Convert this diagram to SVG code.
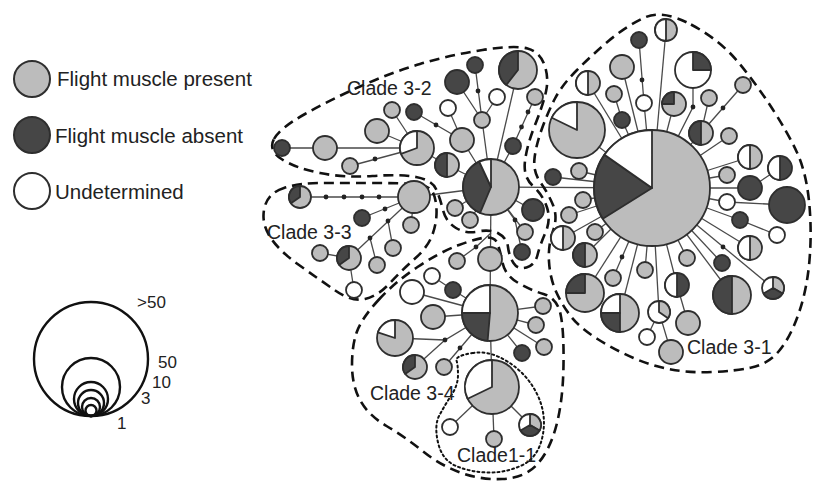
<svg xmlns="http://www.w3.org/2000/svg" width="814" height="483" viewBox="0 0 814 483">
<style>
.n{stroke:#2e2e2e;stroke-width:1.8;stroke-linejoin:round}
.g{fill:#bcbcbc}.d{fill:#464646}.w{fill:#fff}
.e{stroke:#4a4a4a;stroke-width:1.3;fill:none}
.j{fill:#222}
.b{fill:none;stroke:#111;stroke-width:2.6;stroke-dasharray:10 6}
.b11{fill:none;stroke:#111;stroke-width:2;stroke-dasharray:2 3;stroke-linecap:round}
.sz{fill:none;stroke:#111;stroke-width:2.4}
text{font-family:"Liberation Sans",Arial,sans-serif;fill:#222}
.lg{font-size:20.5px}
.cl{font-size:19.5px}
.sl{font-size:17px}
</style>
<rect width="814" height="483" fill="#fff"/>

<!-- legend: states -->
<g id="legend">
<circle class="n g" cx="32" cy="79" r="18" style="stroke-width:2"/>
<text class="lg" x="57" y="86">Flight muscle present</text>
<circle class="n d" cx="32" cy="135" r="18" style="stroke-width:2"/>
<text class="lg" x="55" y="143">Flight muscle absent</text>
<circle class="n w" cx="32" cy="191" r="18" style="stroke-width:2"/>
<text class="lg" x="55" y="199">Undetermined</text>
</g>

<!-- legend: circle size -->
<g id="size-legend">
<circle class="sz" cx="91" cy="359" r="57"/>
<circle class="sz" cx="91" cy="387" r="29"/>
<circle class="sz" cx="91" cy="399" r="17"/>
<circle class="sz" cx="91" cy="403" r="13"/>
<circle class="sz" cx="91" cy="407" r="9"/>
<circle class="sz" cx="91" cy="410.5" r="5.5"/>
<text class="sl" x="137" y="308">&gt;50</text>
<text class="sl" x="158" y="368">50</text>
<text class="sl" x="152" y="388">10</text>
<text class="sl" x="141" y="404">3</text>
<text class="sl" x="117" y="429">1</text>
</g>

<!-- connectors -->
<g id="connectors">
<!-- clade 3-1 -->
<line class="e" x1="652" y1="188" x2="666" y2="30"/>
<polyline class="e" points="639,40 644,103 652,188"/>
<line class="e" x1="652" y1="188" x2="622" y2="67"/>
<line class="e" x1="652" y1="188" x2="588" y2="83"/>
<polyline class="e" points="614,94 622,120 652,188"/>
<line class="e" x1="652" y1="188" x2="577" y2="130"/>
<line class="e" x1="652" y1="188" x2="674" y2="104"/>
<polyline class="e" points="693,70 693,107 652,188"/>
<polyline class="e" points="709,98 701,133 652,188"/>
<line class="e" x1="743" y1="85" x2="701" y2="133"/>
<line class="e" x1="652" y1="188" x2="729" y2="136"/>
<line class="e" x1="652" y1="188" x2="750" y2="157"/>
<polyline class="e" points="780,168 750,188 652,188"/>
<line class="e" x1="652" y1="188" x2="727" y2="175"/>
<polyline class="e" points="652,188 727,202 787,205"/>
<polyline class="e" points="652,188 740,220 777,235"/>
<line class="e" x1="652" y1="188" x2="750" y2="248"/>
<line class="e" x1="652" y1="188" x2="773" y2="288"/>
<line class="e" x1="652" y1="188" x2="722" y2="263"/>
<line class="e" x1="652" y1="188" x2="732" y2="295"/>
<line class="e" x1="652" y1="188" x2="687" y2="258"/>
<polyline class="e" points="652,188 677,285 688,323"/>
<polyline class="e" points="652,188 659,312 671,352"/>
<line class="e" x1="659" y1="312" x2="647" y2="337"/>
<line class="e" x1="652" y1="188" x2="645" y2="270"/>
<line class="e" x1="652" y1="188" x2="613" y2="278"/>
<line class="e" x1="652" y1="188" x2="620" y2="313"/>
<line class="e" x1="652" y1="188" x2="585" y2="293"/>
<line class="e" x1="652" y1="188" x2="585" y2="255"/>
<line class="e" x1="652" y1="188" x2="595" y2="232"/>
<line class="e" x1="652" y1="188" x2="563" y2="238"/>
<line class="e" x1="652" y1="188" x2="569" y2="215"/>
<line class="e" x1="652" y1="188" x2="583" y2="200"/>
<line class="e" x1="652" y1="188" x2="579" y2="171"/>
<line class="e" x1="652" y1="188" x2="553" y2="177"/>
<line class="e" x1="491" y1="187" x2="652" y2="188"/>
<!-- clade 3-2 -->
<polyline class="e" points="282,148 325,148 417,148 447,165 491,187"/>
<line class="e" x1="377" y1="131" x2="417" y2="148"/>
<line class="e" x1="392" y1="110" x2="417" y2="148"/>
<line class="e" x1="350" y1="166" x2="417" y2="148"/>
<polyline class="e" points="414,112 462,140 491,187"/>
<line class="e" x1="448" y1="108" x2="462" y2="140"/>
<polyline class="e" points="457,82 482,120 491,187"/>
<line class="e" x1="475" y1="65" x2="482" y2="120"/>
<line class="e" x1="497" y1="97" x2="482" y2="120"/>
<line class="e" x1="518" y1="70" x2="491" y2="187"/>
<polyline class="e" points="535,97 513,146 491,187"/>
<line class="e" x1="455" y1="208" x2="491" y2="187"/>
<line class="e" x1="470" y1="220" x2="491" y2="187"/>
<line class="e" x1="533" y1="210" x2="491" y2="187"/>
<line class="e" x1="525" y1="232" x2="491" y2="187"/>
<polyline class="e" points="491,187 515,220 522,252"/>
<line class="e" x1="414" y1="197" x2="491" y2="187"/>
<line class="e" x1="491" y1="187" x2="490" y2="313"/>
<!-- clade 3-3 -->
<line class="e" x1="300" y1="197" x2="414" y2="197"/>
<line class="e" x1="362" y1="218" x2="414" y2="197"/>
<line class="e" x1="411" y1="225" x2="414" y2="197"/>
<line class="e" x1="414" y1="197" x2="349" y2="258"/>
<line class="e" x1="388" y1="221" x2="393" y2="248"/>
<line class="e" x1="370" y1="238" x2="377" y2="265"/>
<line class="e" x1="320" y1="253" x2="349" y2="258"/>
<line class="e" x1="349" y1="258" x2="354" y2="290"/>
<!-- clade 3-4 -->
<polyline class="e" points="457,261 476,247 491,233"/>
<polyline class="e" points="432,276 453,290 490,313"/>
<line class="e" x1="412" y1="292" x2="490" y2="313"/>
<line class="e" x1="433" y1="317" x2="490" y2="313"/>
<polyline class="e" points="395,338 445,340 490,313"/>
<line class="e" x1="415" y1="367" x2="445" y2="340"/>
<line class="e" x1="444" y1="367" x2="490" y2="313"/>
<line class="e" x1="543" y1="306" x2="490" y2="313"/>
<line class="e" x1="536" y1="325" x2="490" y2="313"/>
<line class="e" x1="544" y1="347" x2="490" y2="313"/>
<line class="e" x1="522" y1="353" x2="490" y2="313"/>
<line class="e" x1="490" y1="313" x2="492" y2="387"/>
<!-- clade 1-1 -->
<line class="e" x1="492" y1="387" x2="450" y2="427"/>
<line class="e" x1="492" y1="387" x2="494" y2="439"/>
<line class="e" x1="492" y1="387" x2="530" y2="425"/>
<!-- median vectors -->
<g class="j">
<circle cx="642" cy="80" r="2.4"/><circle cx="693" cy="107" r="2.4"/><circle cx="723" cy="108" r="2.4"/>
<circle cx="723" cy="247" r="2.4"/><circle cx="622" cy="257" r="2.4"/>
<circle cx="375" cy="159" r="2.4"/><circle cx="436" cy="125" r="2.4"/><circle cx="478" cy="91" r="2.4"/>
<circle cx="528" cy="112" r="2.4"/><circle cx="521.5" cy="127" r="2.4"/><circle cx="515" cy="220" r="2.4"/>
<circle cx="326" cy="197" r="2.4"/><circle cx="344" cy="197" r="2.4"/><circle cx="362" cy="197" r="2.4"/>
<circle cx="379" cy="197" r="2.4"/><circle cx="385" cy="209" r="2.4"/><circle cx="388" cy="221" r="2.4"/>
<circle cx="370" cy="238" r="2.4"/>
<circle cx="476" cy="247" r="2.4"/><circle cx="445" cy="340" r="2.4"/><circle cx="460" cy="348" r="2.4"/>
</g>
</g>

<!-- clade outlines -->
<g id="clades">
<path id="outline-3-1" class="b" d="M691,24.5 Q720,40 738.5,62.5 Q757,85 772.5,109 Q788,133 797,152.5 Q806,172 809,201 Q812,230 809.5,260 Q807,290 798.5,314 Q790,338 779,351 Q768,364 751.5,367.5 Q735,371 712.5,372 Q690,373 671,369.5 Q652,366 633.5,358 Q615,350 597.5,339 Q580,328 571,316.5 Q562,305 556,291.5 Q550,278 549,261.5 Q548,245 553,231 Q558,217 553,205 Q548,193 540.5,182.5 Q533,172 534.5,158.5 Q536,145 542,128.5 Q548,112 555,98.5 Q562,85 577,70 Q592,55 608.5,41 Q625,27 643.5,18 Q662,9 691,24.5 Z"/>
<path id="outline-3-2" class="b" d="M274,139 Q280,128 305,114 Q330,100 360,86.5 Q390,73 420,64 Q450,55 482.5,50 Q515,45 527.5,48.5 Q540,52 544.5,65 Q549,78 546,91.5 Q543,105 535,125 Q527,145 525,161 Q523,177 533,186 Q543,195 547,207.5 Q551,220 545.5,232.5 Q540,245 537.5,255 Q535,265 526.5,267.5 Q518,270 513.5,263 Q509,256 508,247 Q507,238 498.5,233.5 Q490,229 478,231.5 Q466,234 456,228 Q446,222 443,210 Q440,198 436,189 Q432,180 416,177 Q400,174 372.5,176 Q345,178 320,173 Q295,168 281.5,159 Q268,150 274,139 Z"/>
<path id="outline-3-3" class="b" d="M284,188 Q268,193 264.5,207.5 Q261,222 269.5,236 Q278,250 299,265 Q320,280 336,291 Q352,302 365,299 Q378,296 390,283 Q402,270 415,258.5 Q428,247 432.5,234.5 Q437,222 436.5,209.5 Q436,197 432,191 Q428,185 414,184 Q400,183 370,183 Q340,183 320,183 Q300,183 284,188 Z"/>
<path id="outline-3-4" class="b" d="M378.5,300 Q395,282 417.5,267 Q440,252 459,245 Q478,238 486.5,237.5 Q495,237 497.5,243.5 Q500,250 502.5,262.5 Q505,275 517.5,282.5 Q530,290 543.5,294 Q557,298 560.5,314 Q564,330 563.5,365 Q563,400 556.5,425 Q550,450 537.5,464 Q525,478 502.5,479 Q480,480 460,472.5 Q440,465 422.5,451 Q405,437 386.5,426 Q368,415 360,400 Q352,385 352,365 Q352,345 357,331.5 Q362,318 378.5,300 Z"/>
<path id="outline-1-1" class="b11" d="M472.5,353 Q490,350 509,362.5 Q528,375 537.5,395 Q547,415 542.5,436.5 Q538,458 521.5,465.5 Q505,473 487.5,472.5 Q470,472 456,466 Q442,460 438,442.5 Q434,425 439.5,415 Q445,405 451.5,395 Q458,385 458,375 Q458,365 456.5,360.5 Q455,356 472.5,353 Z"/>
</g>

<!-- clade 3-1 haplotypes -->
<g id="h31-hub"><circle class="n g" cx="652" cy="188" r="58"/><path class="n d" d="M652,188 L602.8,218.7 A58,58 0 0,1 604.5,154.7 Z"/><path class="n w" d="M652,188 L604.5,154.7 A58,58 0 0,1 652,130 Z"/></g>
<g id="h31-01"><circle class="n g" cx="666" cy="30" r="11"/><path class="n w" d="M666,19 A11,11 0 0,0 666,41 Z"/></g>
<g id="h31-02"><circle class="n d" cx="639" cy="40" r="8"/></g>
<g id="h31-03"><circle class="n w" cx="644" cy="103" r="8"/></g>
<g id="h31-04"><circle class="n g" cx="622" cy="67" r="12"/></g>
<g id="h31-05"><circle class="n g" cx="588" cy="83" r="12"/><path class="n w" d="M588,71 A12,12 0 0,0 588,95 Z"/></g>
<g id="h31-06"><circle class="n g" cx="614" cy="94" r="8"/></g>
<g id="h31-07"><circle class="n d" cx="622" cy="120" r="8"/></g>
<g id="h31-08"><circle class="n g" cx="577" cy="130" r="28"/><path class="n w" d="M577,130 L551.8,117.7 A28,28 0 0,1 577,102 Z"/></g>
<g id="h31-09"><circle class="n g" cx="674" cy="104" r="12"/><path class="n d" d="M674,104 L662,104 A12,12 0 0,1 674,92 Z"/></g>
<g id="h31-10"><circle class="n w" cx="693" cy="70" r="18"/><path class="n d" d="M693,70 L693,52 A18,18 0 0,1 711,70 Z"/></g>
<g id="h31-11"><circle class="n g" cx="709" cy="98" r="8"/></g>
<g id="h31-12"><circle class="n g" cx="701" cy="133" r="12"/><path class="n d" d="M701,121 A12,12 0 0,0 701,145 Z"/></g>
<g id="h31-13"><circle class="n g" cx="743" cy="85" r="8"/></g>
<g id="h31-14"><circle class="n g" cx="729" cy="136" r="8"/></g>
<g id="h31-15"><circle class="n g" cx="750" cy="157" r="12"/><path class="n w" d="M750,145 A12,12 0 0,0 750,169 Z"/></g>
<g id="h31-16"><circle class="n d" cx="780" cy="168" r="12"/><path class="n w" d="M780,156 A12,12 0 0,0 780,180 Z"/></g>
<g id="h31-17"><circle class="n g" cx="727" cy="175" r="8"/></g>
<g id="h31-18"><circle class="n d" cx="750" cy="188" r="12"/></g>
<g id="h31-19"><circle class="n d" cx="787" cy="205" r="18"/></g>
<g id="h31-20"><circle class="n w" cx="727" cy="202" r="8"/></g>
<g id="h31-21"><circle class="n d" cx="740" cy="220" r="8"/></g>
<g id="h31-22"><circle class="n w" cx="777" cy="235" r="8"/></g>
<g id="h31-23"><circle class="n g" cx="750" cy="248" r="12"/><path class="n w" d="M750,236 A12,12 0 0,0 750,260 Z"/></g>
<g id="h31-24"><circle class="n w" cx="773" cy="288" r="11"/><path class="n g" d="M773,288 L773,277 A11,11 0 0,1 782.5,293.5 Z"/><path class="n d" d="M773,288 L782.5,293.5 A11,11 0 0,1 763.5,293.5 Z"/></g>
<g id="h31-25"><circle class="n d" cx="722" cy="263" r="8"/></g>
<g id="h31-26"><circle class="n g" cx="732" cy="295" r="19"/><path class="n d" d="M732,276 A19,19 0 0,0 732,314 Z"/></g>
<g id="h31-27"><circle class="n g" cx="687" cy="258" r="8"/></g>
<g id="h31-28"><circle class="n d" cx="677" cy="285" r="12"/><path class="n w" d="M677,273 A12,12 0 0,0 677,297 Z"/></g>
<g id="h31-29"><circle class="n g" cx="688" cy="323" r="12"/></g>
<g id="h31-30"><circle class="n w" cx="659" cy="312" r="11"/><path class="n g" d="M659,312 L659,301 A11,11 0 0,1 668,318.3 Z"/></g>
<g id="h31-31"><circle class="n w" cx="647" cy="337" r="8"/></g>
<g id="h31-32"><circle class="n g" cx="671" cy="352" r="12"/></g>
<g id="h31-33"><circle class="n g" cx="645" cy="270" r="8"/></g>
<g id="h31-34"><circle class="n g" cx="613" cy="278" r="8"/></g>
<g id="h31-35"><circle class="n g" cx="620" cy="313" r="19"/><path class="n w" d="M620,313 L601,313 A19,19 0 0,1 620,294 Z"/><path class="n d" d="M620,313 L620,332 A19,19 0 0,1 601,313 Z"/></g>
<g id="h31-36"><circle class="n g" cx="585" cy="293" r="19"/><path class="n d" d="M585,293 L566,293 A19,19 0 0,1 585,274 Z"/></g>
<g id="h31-37"><circle class="n g" cx="585" cy="255" r="12"/><path class="n d" d="M585,243 A12,12 0 0,0 585,267 Z"/></g>
<g id="h31-38"><circle class="n g" cx="595" cy="232" r="8"/></g>
<g id="h31-39"><circle class="n g" cx="563" cy="238" r="12"/><path class="n w" d="M563,226 A12,12 0 0,0 563,250 Z"/></g>
<g id="h31-40"><circle class="n g" cx="569" cy="215" r="8"/></g>
<g id="h31-41"><circle class="n g" cx="583" cy="200" r="8"/></g>
<g id="h31-42"><circle class="n g" cx="579" cy="171" r="8"/></g>
<g id="h31-43"><circle class="n d" cx="553" cy="177" r="8"/></g>

<!-- clade 3-2 haplotypes -->
<g id="h32-hub"><circle class="n g" cx="491" cy="187" r="28"/><path class="n d" d="M491,187 L480.1,212.8 A28,28 0 0,1 479.2,161.6 Z"/><path class="n w" d="M491,187 L479.2,161.6 A28,28 0 0,1 491,159 Z"/></g>
<g id="h32-01"><circle class="n d" cx="282" cy="148" r="8"/></g>
<g id="h32-02"><circle class="n g" cx="325" cy="148" r="12"/></g>
<g id="h32-03"><circle class="n g" cx="417" cy="148" r="17"/><path class="n w" d="M417,148 L401,153.8 A17,17 0 0,1 417,131 Z"/></g>
<g id="h32-04"><circle class="n g" cx="377" cy="131" r="12"/></g>
<g id="h32-05"><circle class="n g" cx="392" cy="110" r="8"/></g>
<g id="h32-06"><circle class="n g" cx="350" cy="166" r="8"/></g>
<g id="h32-07"><circle class="n d" cx="414" cy="112" r="8"/></g>
<g id="h32-08"><circle class="n w" cx="448" cy="108" r="8"/></g>
<g id="h32-09"><circle class="n g" cx="462" cy="140" r="12"/></g>
<g id="h32-10"><circle class="n d" cx="457" cy="82" r="12"/></g>
<g id="h32-11"><circle class="n d" cx="475" cy="65" r="8"/></g>
<g id="h32-12"><circle class="n w" cx="497" cy="97" r="8"/></g>
<g id="h32-13"><circle class="n g" cx="482" cy="120" r="8"/></g>
<g id="h32-14"><circle class="n g" cx="518" cy="70" r="19"/><path class="n d" d="M518,70 L506.3,85 A19,19 0 0,1 518,51 Z"/></g>
<g id="h32-15"><circle class="n g" cx="535" cy="97" r="8"/></g>
<g id="h32-16"><circle class="n d" cx="513" cy="146" r="8"/></g>
<g id="h32-17"><circle class="n g" cx="447" cy="165" r="12"/><path class="n d" d="M447,153 A12,12 0 0,0 447,177 Z"/></g>
<g id="h32-18"><circle class="n g" cx="455" cy="208" r="8"/></g>
<g id="h32-19"><circle class="n g" cx="470" cy="220" r="8"/></g>
<g id="h32-20"><circle class="n d" cx="533" cy="210" r="11"/></g>
<g id="h32-21"><circle class="n g" cx="525" cy="232" r="8"/></g>
<g id="h32-22"><circle class="n d" cx="522" cy="252" r="8"/></g>

<!-- clade 3-3 haplotypes -->
<g id="h33-01"><circle class="n g" cx="300" cy="197" r="11"/><path class="n d" d="M300,197 L291,203.3 A11,11 0 0,1 300,186 Z"/></g>
<g id="h33-02"><circle class="n g" cx="414" cy="197" r="16"/></g>
<g id="h33-03"><circle class="n d" cx="362" cy="218" r="8"/></g>
<g id="h33-04"><circle class="n g" cx="411" cy="225" r="8"/></g>
<g id="h33-05"><circle class="n g" cx="349" cy="258" r="12"/><path class="n d" d="M349,258 L339.2,264.9 A12,12 0 0,1 349,246 Z"/></g>
<g id="h33-06"><circle class="n g" cx="320" cy="253" r="8"/></g>
<g id="h33-07"><circle class="n g" cx="393" cy="248" r="8"/></g>
<g id="h33-08"><circle class="n g" cx="377" cy="265" r="8"/></g>
<g id="h33-09"><circle class="n w" cx="354" cy="290" r="8"/></g>

<!-- clade 3-4 haplotypes -->
<g id="h34-hub"><circle class="n g" cx="490" cy="313" r="28"/><path class="n w" d="M490,313 L462,313 A28,28 0 0,1 490,285 Z"/><path class="n d" d="M490,313 L487.6,340.9 A28,28 0 0,1 462,313 Z"/></g>
<g id="h34-01"><circle class="n g" cx="490" cy="259" r="12"/></g>
<g id="h34-02"><circle class="n g" cx="457" cy="261" r="8"/></g>
<g id="h34-03"><circle class="n w" cx="432" cy="276" r="8"/></g>
<g id="h34-04"><circle class="n d" cx="453" cy="290" r="8"/></g>
<g id="h34-05"><circle class="n w" cx="412" cy="292" r="12"/></g>
<g id="h34-06"><circle class="n g" cx="433" cy="317" r="12"/></g>
<g id="h34-07"><circle class="n g" cx="395" cy="338" r="18"/><path class="n w" d="M395,338 L377.9,332.4 A18,18 0 0,1 395,320 Z"/></g>
<g id="h34-08"><circle class="n g" cx="415" cy="367" r="12"/><path class="n d" d="M415,367 L405.2,373.9 A12,12 0 0,1 415,355 Z"/></g>
<g id="h34-09"><circle class="n g" cx="444" cy="367" r="8"/></g>
<g id="h34-10"><circle class="n g" cx="543" cy="306" r="8"/></g>
<g id="h34-11"><circle class="n g" cx="536" cy="325" r="8"/></g>
<g id="h34-12"><circle class="n g" cx="544" cy="347" r="8"/></g>
<g id="h34-13"><circle class="n d" cx="522" cy="353" r="8"/></g>

<!-- clade 1-1 haplotypes -->
<g id="h11-hub"><circle class="n g" cx="492" cy="387" r="27"/><path class="n w" d="M492,387 L467.7,398.8 A27,27 0 0,1 492,360 Z"/></g>
<g id="h11-01"><circle class="n w" cx="450" cy="427" r="8"/></g>
<g id="h11-02"><circle class="n g" cx="494" cy="439" r="8"/></g>
<g id="h11-03"><circle class="n w" cx="530" cy="425" r="11"/><path class="n g" d="M530,425 L530,414 A11,11 0 0,1 539.5,430.5 Z"/><path class="n d" d="M530,425 L539.5,430.5 A11,11 0 0,1 520.5,430.5 Z"/></g>

<!-- clade labels -->
<g id="labels">
<text class="cl" x="347" y="95">Clade 3-2</text>
<text class="cl" x="267" y="239">Clade 3-3</text>
<text class="cl" x="687" y="354">Clade 3-1</text>
<text class="cl" x="370" y="400">Clade 3-4</text>
<text class="cl" x="457" y="462">Clade1-1</text>
</g>
</svg>
